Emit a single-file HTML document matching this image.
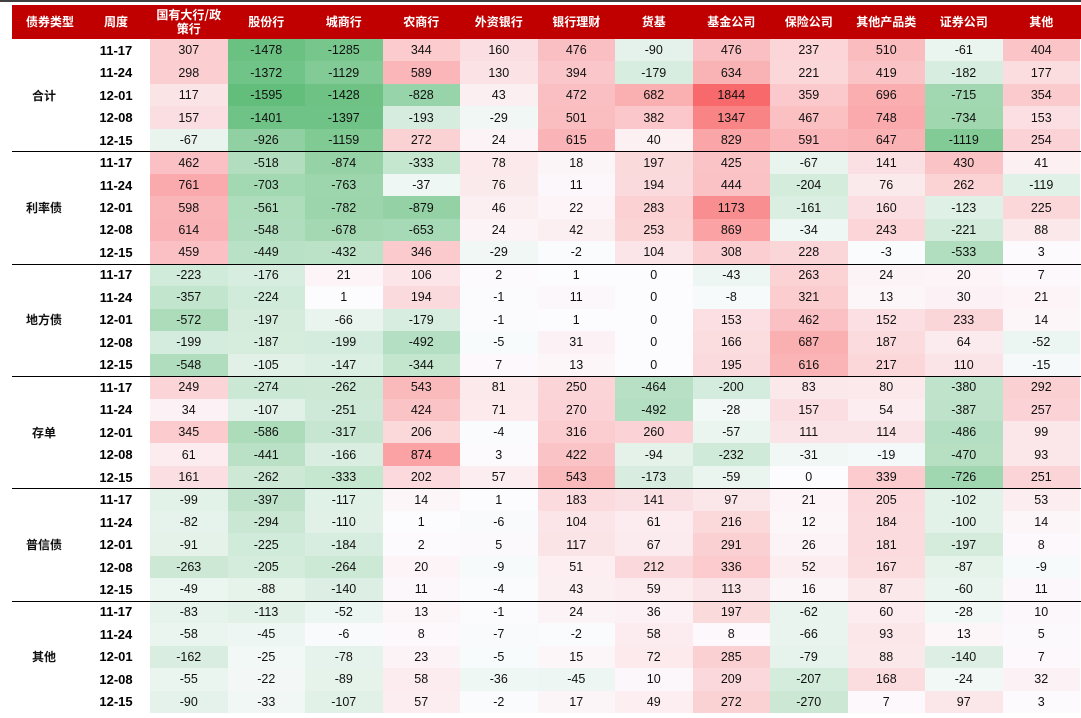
<!DOCTYPE html>
<html><head><meta charset="utf-8"><style>
body{margin:0;width:1081px;height:718px;background:#fff;overflow:hidden;position:relative;font-family:"Liberation Sans","Noto Sans CJK SC",sans-serif}
#topline{position:absolute;left:0;top:0;width:1081px;height:2px;background:#404040}
#hdr{position:absolute;left:12px;top:5px;width:1069px;height:34px;background:#c00000}
.h{position:absolute;top:5px;height:34px;display:flex;align-items:center;justify-content:center;text-align:center;color:#fff;font-weight:bold;font-size:12px;line-height:14px;font-family:"Noto Sans CJK SC","WenQuanYi Zen Hei",sans-serif}
#grid{position:absolute;left:0;top:39px;width:1081px;display:grid;grid-template-columns:88px 62px repeat(12,77.5px);grid-template-rows:repeat(30,22.47px)}
#grid div{display:flex;align-items:center;justify-content:center;font-size:12.5px;color:#111}
#grid .g{grid-column:1;font-weight:bold;font-size:12px;font-family:"Noto Sans CJK SC","WenQuanYi Zen Hei",sans-serif}
#grid .w{font-weight:bold;font-size:13px;padding-right:6px;color:#000}
.sep{position:absolute;left:12px;width:1069px;height:1px;background:#000}
</style></head><body>
<div id="topline"></div><div id="hdr"></div>
<div class="h" style="left:12px;width:76px">债券类型</div>
<div class="h" style="left:88px;width:56px">周度</div>
<div class="h" style="left:150px;width:77.5px">国有大行/政<br>策行</div>
<div class="h" style="left:227.5px;width:77.5px">股份行</div>
<div class="h" style="left:305px;width:77.5px">城商行</div>
<div class="h" style="left:382.5px;width:77.5px">农商行</div>
<div class="h" style="left:460px;width:77.5px">外资银行</div>
<div class="h" style="left:537.5px;width:77.5px">银行理财</div>
<div class="h" style="left:615px;width:77.5px">货基</div>
<div class="h" style="left:692.5px;width:77.5px">基金公司</div>
<div class="h" style="left:770px;width:77.5px">保险公司</div>
<div class="h" style="left:847.5px;width:77.5px">其他产品类</div>
<div class="h" style="left:925px;width:77.5px">证券公司</div>
<div class="h" style="left:1002.5px;width:77.5px">其他</div>
<div id="grid"></div>
<div id="src" style="display:none">
合计|11-17 307 -1478 -1285 344 160 476 -90 476 237 510 -61 404|11-24 298 -1372 -1129 589 130 394 -179 634 221 419 -182 177|12-01 117 -1595 -1428 -828 43 472 682 1844 359 696 -715 354|12-08 157 -1401 -1397 -193 -29 501 382 1347 467 748 -734 153|12-15 -67 -926 -1159 272 24 615 40 829 591 647 -1119 254
#利率债|11-17 462 -518 -874 -333 78 18 197 425 -67 141 430 41|11-24 761 -703 -763 -37 76 11 194 444 -204 76 262 -119|12-01 598 -561 -782 -879 46 22 283 1173 -161 160 -123 225|12-08 614 -548 -678 -653 24 42 253 869 -34 243 -221 88|12-15 459 -449 -432 346 -29 -2 104 308 228 -3 -533 3
#地方债|11-17 -223 -176 21 106 2 1 0 -43 263 24 20 7|11-24 -357 -224 1 194 -1 11 0 -8 321 13 30 21|12-01 -572 -197 -66 -179 -1 1 0 153 462 152 233 14|12-08 -199 -187 -199 -492 -5 31 0 166 687 187 64 -52|12-15 -548 -105 -147 -344 7 13 0 195 616 217 110 -15
#存单|11-17 249 -274 -262 543 81 250 -464 -200 83 80 -380 292|11-24 34 -107 -251 424 71 270 -492 -28 157 54 -387 257|12-01 345 -586 -317 206 -4 316 260 -57 111 114 -486 99|12-08 61 -441 -166 874 3 422 -94 -232 -31 -19 -470 93|12-15 161 -262 -333 202 57 543 -173 -59 0 339 -726 251
#普信债|11-17 -99 -397 -117 14 1 183 141 97 21 205 -102 53|11-24 -82 -294 -110 1 -6 104 61 216 12 184 -100 14|12-01 -91 -225 -184 2 5 117 67 291 26 181 -197 8|12-08 -263 -205 -264 20 -9 51 212 336 52 167 -87 -9|12-15 -49 -88 -140 11 -4 43 59 113 16 87 -60 11
#其他|11-17 -83 -113 -52 13 -1 24 36 197 -62 60 -28 10|11-24 -58 -45 -6 8 -7 -2 58 8 -66 93 13 5|12-01 -162 -25 -78 23 -5 15 72 285 -79 88 -140 7|12-08 -55 -22 -89 58 -36 -45 10 209 -207 168 -24 32|12-15 -90 -33 -107 57 -2 17 49 272 -270 7 97 3
</div>
<script>
var g=document.getElementById('grid');
var blocks=document.getElementById('src').textContent.trim().split('#');
var mx=1844,mn=-1595,E=0.65;
blocks.forEach(function(b,bi){
  var parts=b.trim().split('|');var name=parts[0];var rows=parts.slice(1).map(function(r){return r.trim().split(/\s+/)});
  var gl=document.createElement('div');gl.className='g';gl.textContent=name;gl.style.gridRow=(bi*5+1)+' / span 5';g.appendChild(gl);
  rows.forEach(function(r,ri){
    var w=document.createElement('div');w.className='w';w.textContent=r[0];w.style.gridRow=bi*5+ri+1;w.style.gridColumn=2;g.appendChild(w);
    r.slice(1).forEach(function(v,ci){
      var d=document.createElement('div');d.textContent=v;v=+v;var c;
      if(v>=0){var t=Math.pow(v/mx,E);c=[252-4*t,252-147*t,255-148*t];}
      else{var t=Math.pow(v/mn,E);c=[252-153*t,252-62*t,255-132*t];}
      d.style.background='rgb('+c.map(Math.round).join(',')+')';
      d.style.gridRow=bi*5+ri+1;d.style.gridColumn=ci+3;g.appendChild(d);
    });
  });
  if(bi>0){var s=document.createElement('div');s.className='sep';s.style.top=(39+bi*112.35)+'px';document.body.appendChild(s);}
});
</script>
</body></html>
